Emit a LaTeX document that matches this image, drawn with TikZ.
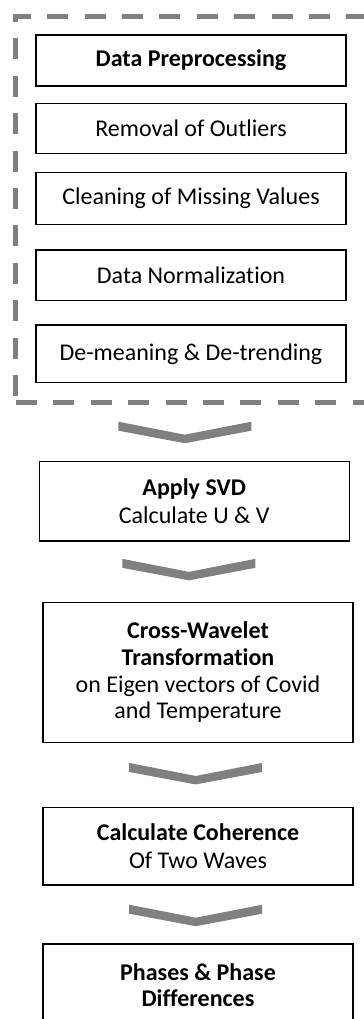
\documentclass[tikz,border=0pt]{standalone}
\usepackage{fontspec}
\setmainfont[Ligatures=NoCommon]{Carlito}
\usepackage{tikz}
\usetikzlibrary{positioning}
\usetikzlibrary{calc}
\tikzstyle{stepbox}=[rectangle,draw=black,line width=0.6pt,minimum width=155pt,inner sep=0pt,align=center,font=\fontsize{12}{13.3}\selectfont]
\tikzstyle{frameline}=[draw=black!50,line width=2.5pt,dash pattern=on 10.5pt off 8.2pt]
\tikzstyle{downchev}=[fill=black!50,draw=none]

\begin{document}
\begin{tikzpicture}[x=0.5pt,y=-0.5pt]

 \useasboundingbox (0,0) rectangle (364,1019);

 %dashed frame round the preprocessing steps
 \draw[frameline,dash phase=1.8pt] (13.3,16.5) -- (380,16.5);
 \draw[frameline,dash phase=6.55pt] (15.8,14) -- (15.8,402.5);
 \draw[frameline] (16,402.5) -- (380,402.5);

 %preprocessing steps
   \foreach \x/\y/\h/\name/\txt in {191/60.5/25.5/b1/{\textbf{Data Preprocessing}}, 191/128.3/25/b2/{Removal of Outliers},
      191/198.3/26/b3/{Cleaning of Missing Values}, 191/275.3/25.3/b4/{Data Normalization}, 191/353.8/28.8/b5/{De-meaning \& De-trending}}
          \node[stepbox,minimum height=\h pt] (\name) at (\x,\y) {\txt};

 %main steps
   \foreach \x/\y/\h/\name/\txt in {194.2/501.3/39.6/svd/{\textbf{Apply SVD}\\[0.8pt]Calculate U \& V},
      198/672.3/70/cwt/{\textbf{Cross-Wavelet}\\\textbf{Transformation}\\on Eigen vectors of Covid\\and Temperature},
      198/846.3/38.6/coh/{\textbf{Calculate Coherence}\\[0.8pt]Of Two Waves},
      198/985/41/pha/{\textbf{Phases \& Phase}\\\textbf{Differences}}}
          \node[stepbox,minimum height=\h pt] (\name) at (\x,\y) {\txt};

 %chevrons between the steps
  \foreach \source/ \dest /\sx/\sy in {b5/svd/-7.75/10.3, svd/cwt/-7.2/-2, cwt/coh/-2.3/-1.3, coh/pha/-2.3/1}
         \fill[downchev] ($(\source.south)!0.5!(\dest.north)+(\sx,\sy)$) ++(-66.5,-10.75) -- ++(66.5,13) -- ++(66.5,-13)
             -- ++(0,9) -- ++(-66.5,12.5) -- ++(-66.5,-12.5) -- cycle;

\end{tikzpicture}
\end{document}
